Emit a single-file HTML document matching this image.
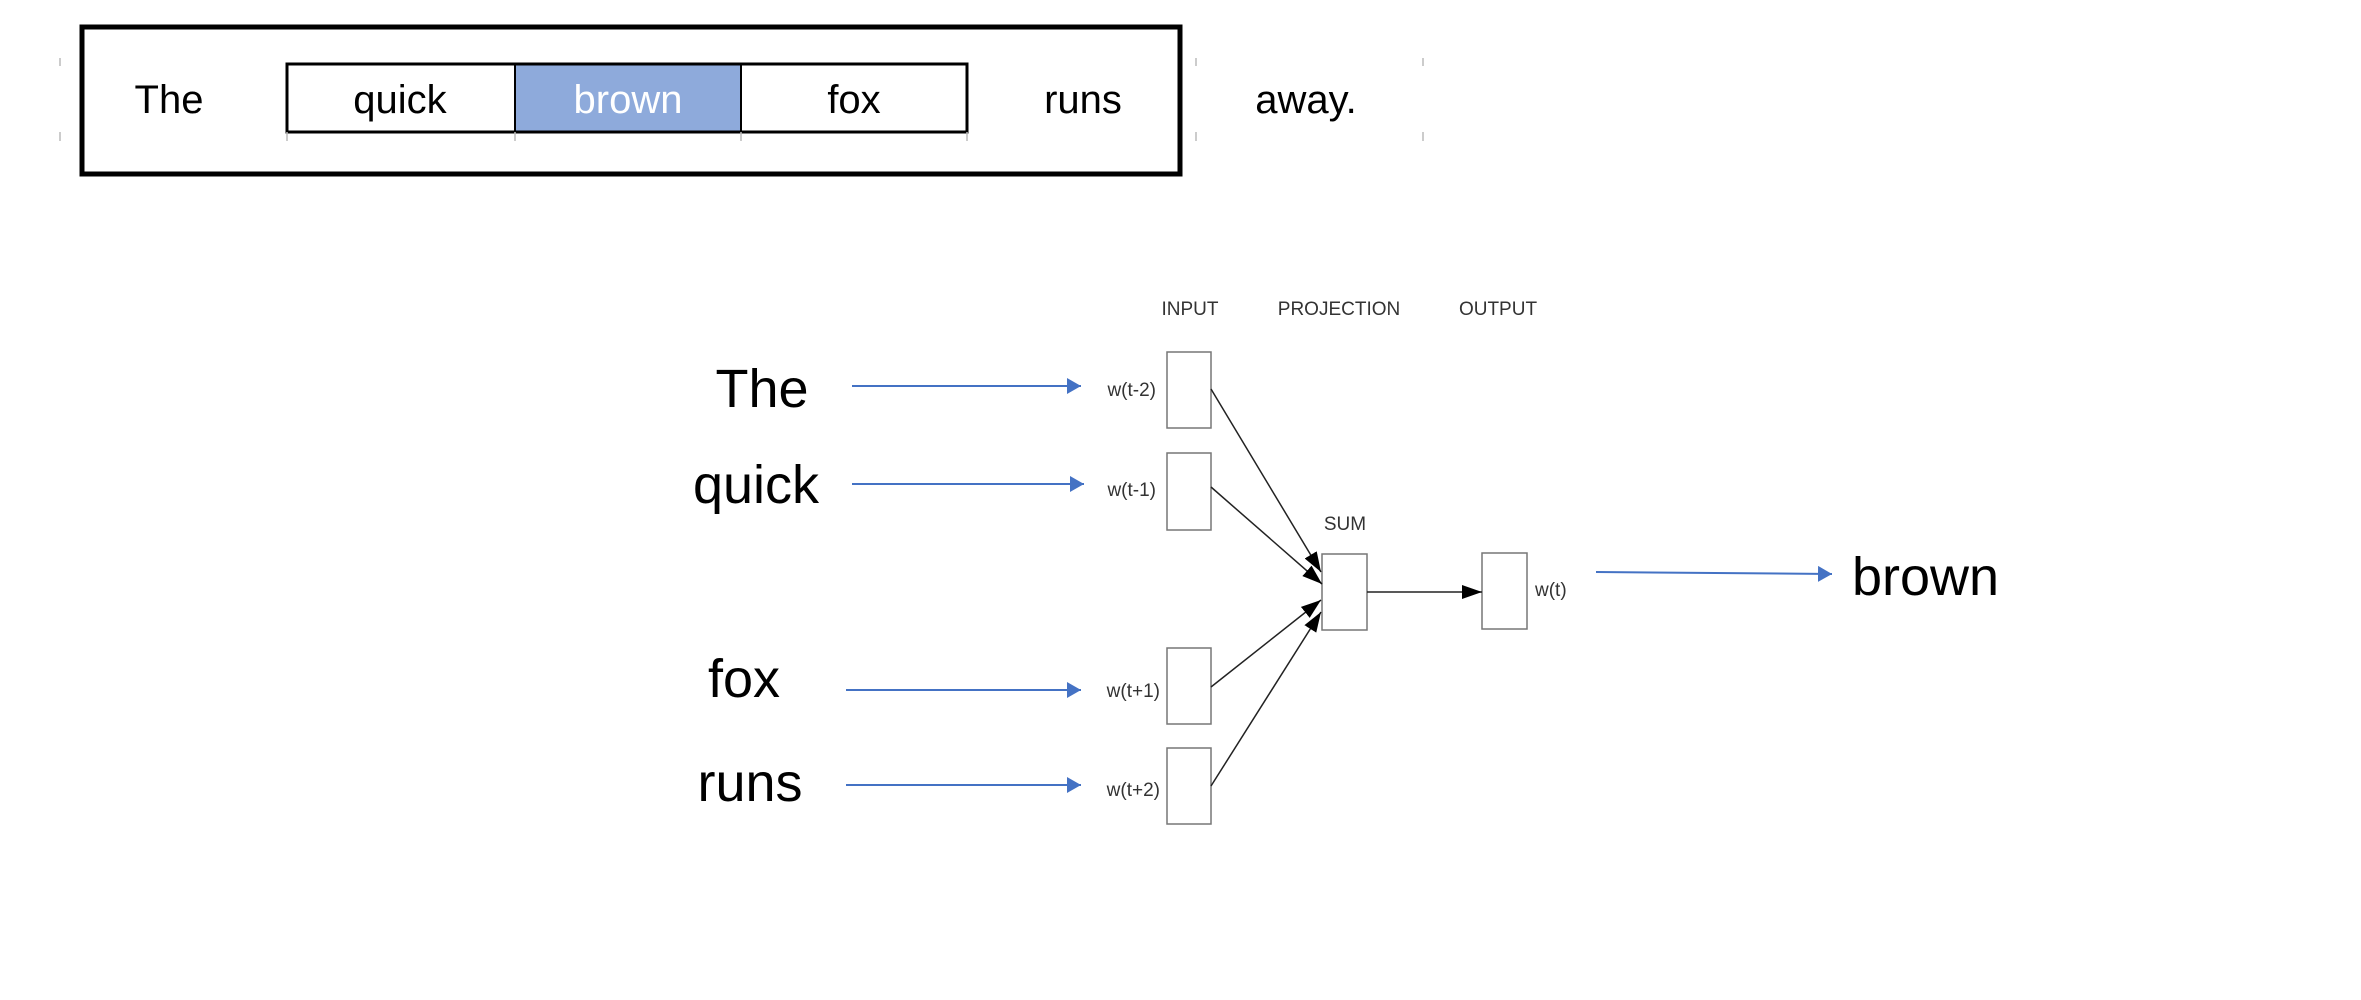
<!DOCTYPE html>
<html><head><meta charset="utf-8"><style>
html,body{margin:0;padding:0;background:#fff;}
svg{display:block;}
</style></head><body>
<svg width="2361" height="1000" viewBox="0 0 2361 1000" xmlns="http://www.w3.org/2000/svg">
<defs>
<marker id="bk" markerWidth="10" markerHeight="8" refX="10" refY="4" orient="auto" markerUnits="userSpaceOnUse" viewBox="0 0 10 8"><path d="M0,0 L10,4 L0,8 z" fill="#000"/></marker>
<marker id="bka" markerWidth="20" markerHeight="14" refX="20" refY="7" orient="auto" markerUnits="userSpaceOnUse"><path d="M0,0 L20,7 L0,14 z" fill="#000"/></marker>
<marker id="bl" markerWidth="14" markerHeight="16" refX="14" refY="8" orient="auto" markerUnits="userSpaceOnUse"><path d="M0,0 L14,8 L0,16 z" fill="#4472c4"/></marker>
</defs>
<!-- top sentence -->
<rect x="82" y="27" width="1098" height="147" fill="none" stroke="#000" stroke-width="5"/>
<rect x="515" y="65" width="226" height="66" fill="#8eaadb"/>
<rect x="287" y="64" width="680" height="68" fill="none" stroke="#000" stroke-width="3"/>
<line x1="515" y1="64" x2="515" y2="132" stroke="#000" stroke-width="2"/>
<line x1="741" y1="64" x2="741" y2="132" stroke="#000" stroke-width="2"/>
<g stroke="#bbb" stroke-width="1.5">
<line x1="60" y1="58" x2="60" y2="66"/><line x1="60" y1="132" x2="60" y2="141"/>
<line x1="287" y1="132" x2="287" y2="141"/><line x1="515" y1="132" x2="515" y2="141"/>
<line x1="741" y1="132" x2="741" y2="141"/><line x1="967" y1="132" x2="967" y2="141"/>
<line x1="1196" y1="58" x2="1196" y2="66"/><line x1="1196" y1="132" x2="1196" y2="141"/>
<line x1="1423" y1="58" x2="1423" y2="66"/><line x1="1423" y1="132" x2="1423" y2="141"/>
</g>
<g font-family="Liberation Sans, sans-serif" font-size="40" text-anchor="middle">
<text x="169" y="113">The</text>
<text x="400" y="113">quick</text>
<text x="628" y="113" fill="#fff">brown</text>
<text x="854" y="113">fox</text>
<text x="1083" y="113">runs</text>
<text x="1306" y="113">away.</text>
</g>
<!-- headers -->
<g font-family="Liberation Sans, sans-serif" font-size="19" fill="#333" text-anchor="middle">
<text x="1190" y="315">INPUT</text>
<text x="1339" y="315">PROJECTION</text>
<text x="1498" y="315">OUTPUT</text>
<text x="1345" y="530">SUM</text>
</g>
<!-- boxes -->
<g fill="#fff" stroke="#777" stroke-width="1.5">
<rect x="1167" y="352" width="44" height="76"/>
<rect x="1167" y="453" width="44" height="77"/>
<rect x="1167" y="648" width="44" height="76"/>
<rect x="1167" y="748" width="44" height="76"/>
<rect x="1322" y="554" width="45" height="76"/>
<rect x="1482" y="553" width="45" height="76"/>
</g>
<g font-family="Liberation Sans, sans-serif" font-size="19" fill="#333" text-anchor="end">
<text x="1156" y="396">w(t-2)</text>
<text x="1156" y="496">w(t-1)</text>
<text x="1160" y="697">w(t+1)</text>
<text x="1160" y="796">w(t+2)</text>
</g>
<text x="1535" y="596" font-family="Liberation Sans, sans-serif" font-size="19" fill="#333">w(t)</text>
<!-- connectors -->
<g stroke="#222" stroke-width="1.5" fill="none" marker-end="url(#bka)">
<line x1="1211" y1="389" x2="1321" y2="572"/>
<line x1="1211" y1="487" x2="1322" y2="584"/>
<line x1="1211" y1="687" x2="1321" y2="600"/>
<line x1="1211" y1="786" x2="1321" y2="612"/>
<line x1="1367" y1="592" x2="1482" y2="592"/>
</g>
<!-- blue arrows -->
<g stroke="#4472c4" stroke-width="2" marker-end="url(#bl)">
<line x1="852" y1="386" x2="1081" y2="386"/>
<line x1="852" y1="484" x2="1084" y2="484"/>
<line x1="846" y1="690" x2="1081" y2="690"/>
<line x1="846" y1="785" x2="1081" y2="785"/>
<line x1="1596" y1="572" x2="1832" y2="574"/>
</g>
<g font-family="Liberation Sans, sans-serif" font-size="54" text-anchor="middle">
<text x="762" y="407">The</text>
<text x="756" y="503">quick</text>
<text x="744" y="697">fox</text>
<text x="750" y="801">runs</text>
<text x="1852" y="595" text-anchor="start">brown</text>
</g>
</svg>
</body></html>
